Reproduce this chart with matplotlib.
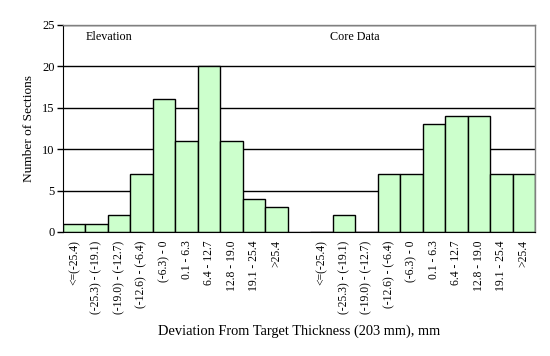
import matplotlib
matplotlib.use("Agg")
import matplotlib.pyplot as plt
import numpy as np

plt.rcParams['font.family'] = ['Liberation Serif', 'DejaVu Serif']

categories = ["<=(-25.4)", "(-25.3) - (-19.1)", "(-19.0) - (-12.7)", "(-12.6) - (-6.4)",
              "(-6.3) - 0", "0.1 - 6.3", "6.4 - 12.7", "12.8 - 19.0", "19.1 - 25.4", ">25.4"]
elevation = [1, 1, 2, 7, 16, 11, 20, 11, 4, 3]
core_data = [0, 2, 0, 7, 7, 13, 14, 14, 7, 7]

fig = plt.figure(figsize=(5.5, 3.56), dpi=100)
ax = fig.add_axes([63/550, 1 - 232/356, 472/550, (232 - 24.5)/356])

n = len(categories)
x_elev = np.arange(n)
x_core = np.arange(n) + n + 1

ax.set_axisbelow(True)
ax.yaxis.grid(True, color='black', linewidth=1.0)
ax.bar(x_elev, elevation, width=1.0, color='#CCFFCC', edgecolor='black', linewidth=1.0)
ax.bar(x_core, core_data, width=1.0, color='#CCFFCC', edgecolor='black', linewidth=1.0)

ax.set_xlim(-0.5, 2 * n + 0.5)
ax.set_ylim(0, 25)
ax.set_yticks([0, 5, 10, 15, 20, 25])
ax.tick_params(axis='y', labelsize=9, length=4, width=1, direction='out', pad=2)
ax.set_xticks(list(x_elev) + list(x_core))
ax.set_xticklabels(categories + categories, rotation=90, fontsize=8.4)
ax.tick_params(axis='x', length=0, pad=6)

for s in ['top', 'right']:
    ax.spines[s].set_color('#808080')
    ax.spines[s].set_linewidth(1.0)
ax.spines['left'].set_color('black')
ax.spines['bottom'].set_color('black')

ax.set_ylabel("Number of Sections", fontsize=9.6, labelpad=5)
ax.set_xlabel("Deviation From Target Thickness (203 mm), mm", fontsize=10.4, labelpad=8)

ax.text(0.52, 23.5, "Elevation", fontsize=8.7, va='center', ha='left')
ax.text(11.37, 23.5, "Core Data", fontsize=8.7, va='center', ha='left')

fig.savefig("out.png", dpi=100)
